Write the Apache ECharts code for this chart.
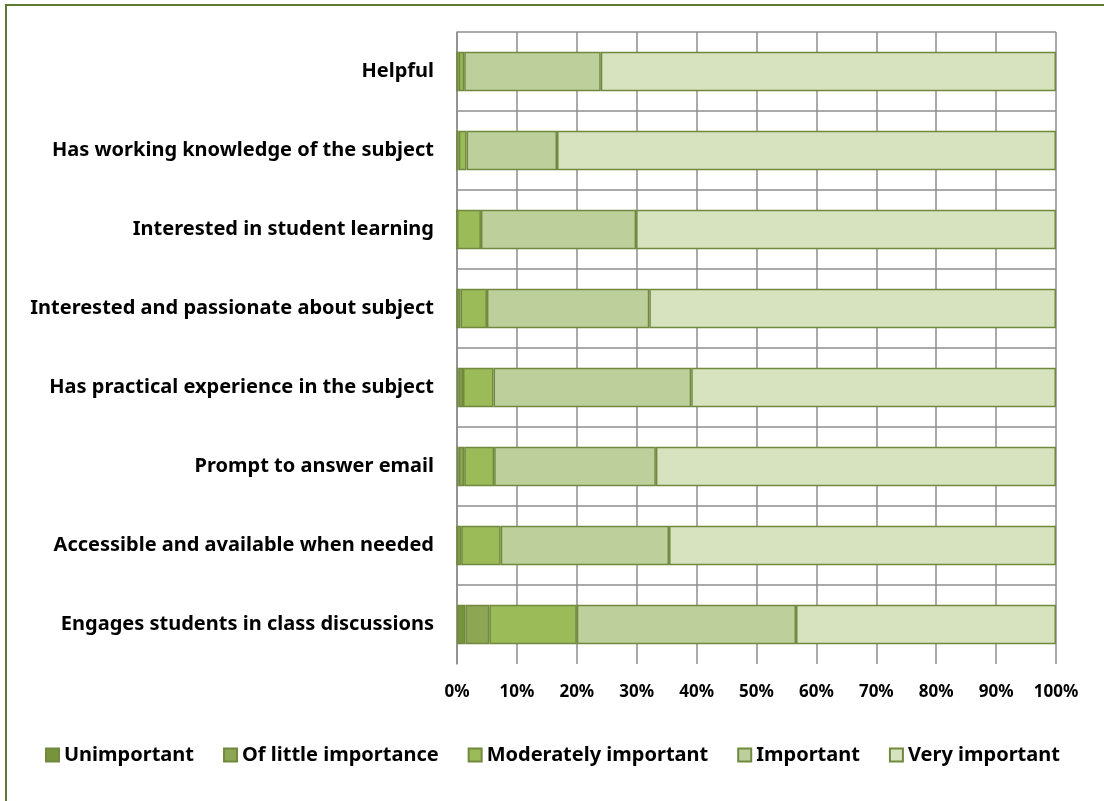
<!DOCTYPE html>
<html>
<head>
<meta charset="utf-8">
<script src="https://cdn.jsdelivr.net/npm/echarts@6/dist/echarts.min.js"></script>
<style>
  html, body { margin: 0; padding: 0; background: #fff; }
  #chart { width: 1104px; height: 801px; }
</style>
</head>
<body>
<div id="chart"></div>
<script>
// categories, top to bottom
const categories = [
  "Helpful",
  "Has working knowledge of the subject",
  "Interested in student learning",
  "Interested and passionate about subject",
  "Has practical experience in the subject",
  "Prompt to answer email",
  "Accessible and available when needed",
  "Engages students in class discussions"
];
const seriesNames = ["Unimportant", "Of little importance", "Moderately important", "Important", "Very important"];
// percentages
const unimportant = [0, 0, 0, 0, 0.3, 0.3, 0, 1.4];
const littleImportance = [0.3, 0.3, 0, 0.6, 0.7, 0.9, 0.7, 4.0];
const moderatelyImportant = [0.9, 1.3, 4.0, 4.4, 5.1, 5.0, 6.6, 14.6];
const important = [22.8, 15.1, 25.9, 27.1, 33.0, 27.0, 28.1, 36.6];
const veryImportant = [76.0, 83.3, 70.1, 67.9, 60.9, 66.8, 64.6, 43.4];
const xTicks = [0, 10, 20, 30, 40, 50, 60, 70, 80, 90, 100];

const seriesData = [unimportant, littleImportance, moderatelyImportant, important, veryImportant];
const colors = ["#77933C", "#8CA653", "#9BBB59", "#BDD09C", "#D6E3BE"];

const chart = echarts.init(document.getElementById("chart"));
const font = "'Noto Sans', sans-serif";

let option = {
  animation: false,
  graphic: [
    {
      type: "rect",
      shape: { x: 6, y: 5, width: 1200, height: 1000 },
      style: { fill: "none", stroke: "#5E7A30", lineWidth: 2 },
      silent: true
    }
  ],
  grid: { left: 457, right: 48, top: 32, bottom: 137 },
  legend: {
    bottom: 31,
    left: 40,
    icon: "rect",
    itemWidth: 13,
    itemHeight: 13,
    itemGap: 29,
    textStyle: { fontFamily: font, fontWeight: "bold", fontSize: 20, color: "#000" },
    data: seriesNames
  },
  xAxis: {
    type: "value",
    min: 0,
    max: xTicks[xTicks.length - 1],
    interval: 10,
    axisLine: { show: false },
    axisTick: { show: false },
    axisLabel: {
      formatter: v => v + "%",
      fontFamily: font,
      fontWeight: "bold",
      fontSize: 17,
      color: "#000",
      margin: 20
    },
    splitLine: { lineStyle: { color: "#8E8E8E", width: 1.5 } }
  },
  yAxis: {
    type: "category",
    inverse: true,
    data: categories,
    axisLine: { lineStyle: { color: "#8E8E8E", width: 1.5 } },
    axisTick: { show: false },
    axisLabel: {
      fontFamily: font,
      fontWeight: "bold",
      fontSize: 20,
      color: "#000",
      margin: 23
    },
    splitLine: {
      show: true,
      lineStyle: {
        color: ["#8E8E8E", "#8E8E8E", "#8E8E8E", "#8E8E8E", "#8E8E8E", "#8E8E8E", "#8E8E8E", "#8E8E8E", "rgba(0,0,0,0)"],
        width: 1.5
      }
    }
  },
  series: seriesNames.map((name, i) => ({
    name: name,
    type: "bar",
    stack: "total",
    barWidth: "50%",
    data: seriesData[i],
    itemStyle: { color: colors[i], borderColor: "#71893F", borderWidth: 1.5 }
  }))
};

chart.setOption(option);
</script>
</body>
</html>
